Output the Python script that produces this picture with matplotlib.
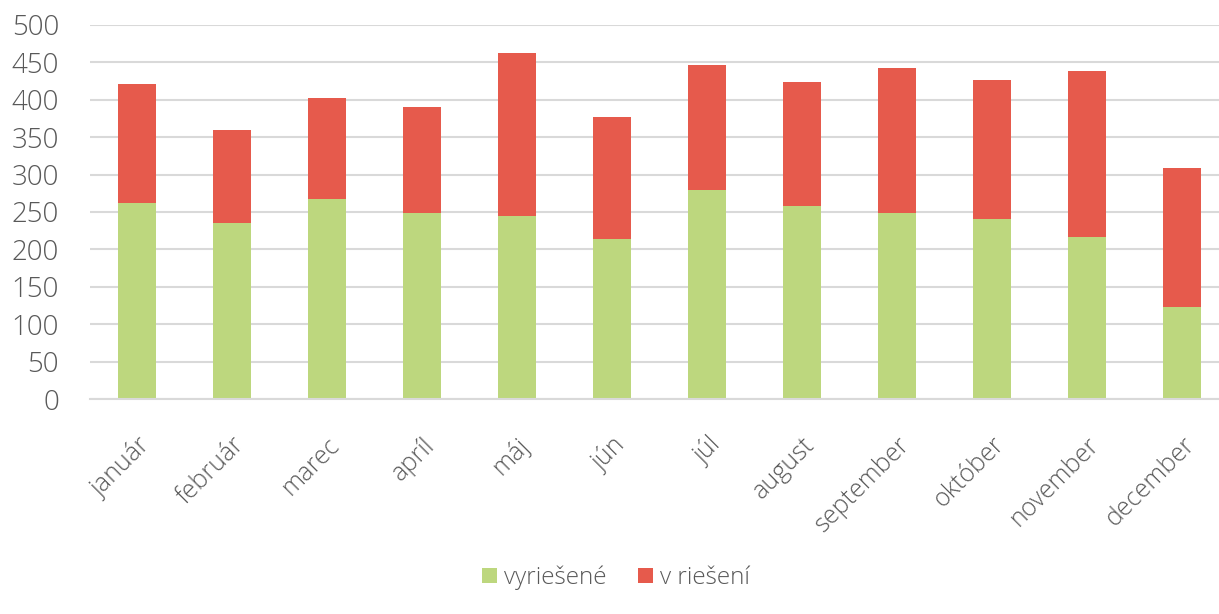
import numpy as np
import matplotlib
matplotlib.use("Agg")
import matplotlib.pyplot as plt

months = ["január", "február", "marec", "apríl", "máj", "jún",
          "júl", "august", "september", "október", "november", "december"]
vyriesene = [262, 235, 268, 248, 245, 214, 279, 258, 248, 241, 216, 123]
v_rieseni = [159, 125, 135, 142, 218, 163, 168, 166, 194, 185, 222, 186]

GREEN, RED, GRID, TXT = "#bdd77e", "#e65a4c", "#d9d9d9", "#595959"

plt.rcParams["font.family"] = ["Open Sans", "DejaVu Sans"]
plt.rcParams["font.weight"] = "light"

fig = plt.figure(figsize=(12.19, 6.14), dpi=100)
ax = fig.add_axes([89.5 / 1219, 1 - 399 / 614, 1140 / 1219, 374 / 614])

x = np.arange(len(months))
ax.bar(x, vyriesene, width=0.4, color=GREEN, label="vyriešené", zorder=2)
ax.bar(x, v_rieseni, width=0.4, bottom=vyriesene, color=RED, label="v riešení", zorder=2)

ax.set_xlim(-0.5, len(months) - 0.5)
ax.set_ylim(0, 500)
ax.set_yticks(np.arange(0, 501, 50))
ax.yaxis.grid(True, color=GRID, lw=1.5, zorder=0)
for s in ["top", "right", "left"]:
    ax.spines[s].set_visible(False)
ax.spines["bottom"].set_color(GRID)
ax.spines["bottom"].set_linewidth(1.5)
ax.tick_params(length=0, colors=TXT)
ax.tick_params(axis="y", labelsize=20, pad=22)
ax.set_xticks(x)
ax.set_xticklabels(months, rotation=45, ha="right", rotation_mode="anchor")
ax.tick_params(axis="x", labelsize=18, pad=24)

fig.legend(loc="center", bbox_to_anchor=(616 / 1219, 1 - 578 / 614), ncol=2,
           frameon=False, fontsize=17.5, handlelength=0.6, handleheight=0.6,
           handletextpad=0.3, columnspacing=1.3, labelcolor=TXT)

fig.savefig("out.png", dpi=100)
